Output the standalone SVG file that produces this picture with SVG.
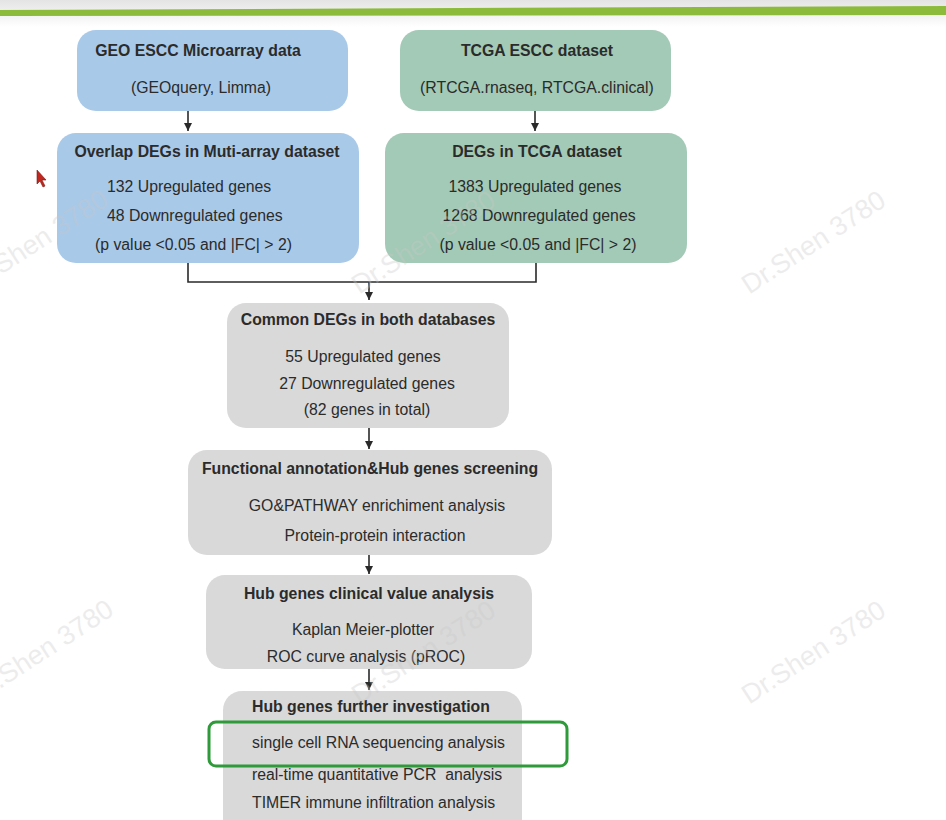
<svg xmlns="http://www.w3.org/2000/svg" width="946" height="820" viewBox="0 0 946 820">
<defs>
<linearGradient id="topbg" x1="0" y1="0" x2="0" y2="1">
<stop offset="0" stop-color="#e4e4e4"/>
<stop offset="1" stop-color="#f0f0f0"/>
</linearGradient>
<linearGradient id="belowg" x1="0" y1="0" x2="0" y2="1">
<stop offset="0" stop-color="#f2f2f2"/>
<stop offset="1" stop-color="#ffffff"/>
</linearGradient>
<marker id="ah" viewBox="0 0 8 8" refX="8" refY="4" markerWidth="8" markerHeight="8" markerUnits="userSpaceOnUse" orient="auto">
<path d="M0,0 L8,4 L0,8 Z" fill="#2a2a2a"/>
</marker>
<style>
.blue{fill:#a9c9e8}
.green{fill:#a3cab6}
.grey{fill:#d9d9d9}
.t{font-family:"Liberation Sans",Arial,sans-serif;font-size:15.8px;fill:#2b2b2b}
.b{font-weight:bold}
.m{text-anchor:middle}
.wm{font-family:"Liberation Sans",Arial,sans-serif;font-size:27px;fill:#c8c8c8;opacity:0.33}
.conn{stroke:#2a2a2a;stroke-width:1.6;fill:none}
</style>
</defs>
<rect x="0" y="0" width="946" height="820" fill="#ffffff"/>
<rect x="0" y="0" width="946" height="12" fill="url(#topbg)"/>
<rect x="0" y="15" width="946" height="12" fill="url(#belowg)"/>
<polygon points="0,10 946,6 946,15 0,16" fill="#8cbb3c"/>

<g id="geo">
<rect class="blue" x="77" y="30" width="271" height="81" rx="19"/>
<text class="t b m" x="198" y="56">GEO ESCC Microarray data</text>
<text class="t m" x="201" y="93">(GEOquery, Limma)</text>
</g>
<g id="tcga">
<rect class="green" x="400" y="30" width="271" height="81" rx="19"/>
<text class="t b m" x="537" y="56">TCGA ESCC dataset</text>
<text class="t m" x="537" y="93">(RTCGA.rnaseq, RTCGA.clinical)</text>
</g>
<g id="overlap">
<rect class="blue" x="57" y="133" width="302" height="130" rx="19"/>
<text class="t b m" x="207" y="157">Overlap DEGs in Muti-array dataset</text>
<text class="t" x="107" y="192">132 Upregulated genes</text>
<text class="t" x="107" y="221">48 Downregulated genes</text>
<text class="t" x="95" y="250">(p value &lt;0.05 and |FC| &gt; 2)</text>
</g>
<g id="degs-tcga">
<rect class="green" x="385" y="133" width="302" height="130" rx="19"/>
<text class="t b m" x="537" y="157">DEGs in TCGA dataset</text>
<text class="t m" x="535" y="192">1383 Upregulated genes</text>
<text class="t m" x="539" y="221">1268 Downregulated genes</text>
<text class="t m" x="538" y="250">(p value &lt;0.05 and |FC| &gt; 2)</text>
</g>
<g id="common">
<rect class="grey" x="227" y="303" width="282" height="125" rx="19"/>
<text class="t b m" x="368" y="325">Common DEGs in both databases</text>
<text class="t m" x="363" y="362">55 Upregulated genes</text>
<text class="t m" x="367" y="389">27 Downregulated genes</text>
<text class="t m" x="367" y="415">(82 genes in total)</text>
</g>
<g id="functional">
<rect class="grey" x="188" y="450" width="364" height="105" rx="19"/>
<text class="t b m" x="370" y="474">Functional annotation&amp;Hub genes screening</text>
<text class="t m" x="377" y="511">GO&amp;PATHWAY enrichiment analysis</text>
<text class="t m" x="375" y="541">Protein-protein interaction</text>
</g>
<g id="clinical">
<rect class="grey" x="206" y="575" width="326" height="94" rx="19"/>
<text class="t b m" x="369" y="599">Hub genes clinical value analysis</text>
<text class="t m" x="363" y="635">Kaplan Meier-plotter</text>
<text class="t m" x="366" y="662">ROC curve analysis (pROC)</text>
</g>
<g id="further">
<rect class="grey" x="223" y="691" width="299" height="150" rx="19"/>
<text class="t b" x="252" y="712">Hub genes further investigation</text>
<text class="t" x="252" y="748">single cell RNA sequencing analysis</text>
<text class="t" x="252" y="780" xml:space="preserve">real-time quantitative PCR  analysis</text>
<text class="t" x="252" y="808">TIMER immune infiltration analysis</text>
</g>
<g id="highlight">
<rect x="209" y="722" width="358" height="44" rx="7" fill="none" stroke="#2f9a3a" stroke-width="3"/>
</g>

<g id="connectors">
<line class="conn" x1="188" y1="111" x2="188" y2="131" marker-end="url(#ah)"/>
<line class="conn" x1="535" y1="111" x2="535" y2="131" marker-end="url(#ah)"/>
<polyline class="conn" points="188,263 188,282 536,282 536,263"/>
<line class="conn" x1="369" y1="282" x2="369" y2="300" marker-end="url(#ah)"/>
<line class="conn" x1="369" y1="428" x2="369" y2="449" marker-end="url(#ah)"/>
<line class="conn" x1="369" y1="555" x2="369" y2="574" marker-end="url(#ah)"/>
<line class="conn" x1="369" y1="669" x2="369" y2="690" marker-end="url(#ah)"/>
</g>

<g id="watermarks">
<text class="wm" x="-50" y="250" transform="rotate(-33 35 235)">Dr.Shen 3780</text>
<text class="wm" x="340" y="250" transform="rotate(-33 425 240)">Dr.Shen 3780</text>
<text class="wm" x="730" y="250" transform="rotate(-33 815 240)">Dr.Shen 3780</text>
<text class="wm" x="-45" y="660" transform="rotate(-33 40 645)">Dr.Shen 3780</text>
<text class="wm" x="340" y="660" transform="rotate(-33 425 650)">Dr.Shen 3780</text>
<text class="wm" x="730" y="660" transform="rotate(-33 815 650)">Dr.Shen 3780</text>
</g>
<g id="cursor">
<polygon points="37,170 37,184 40,181 43,187 45,186 42,180 46,180" fill="#c0271e" stroke="#7a1a14" stroke-width="0.6"/>
</g>
</svg>
